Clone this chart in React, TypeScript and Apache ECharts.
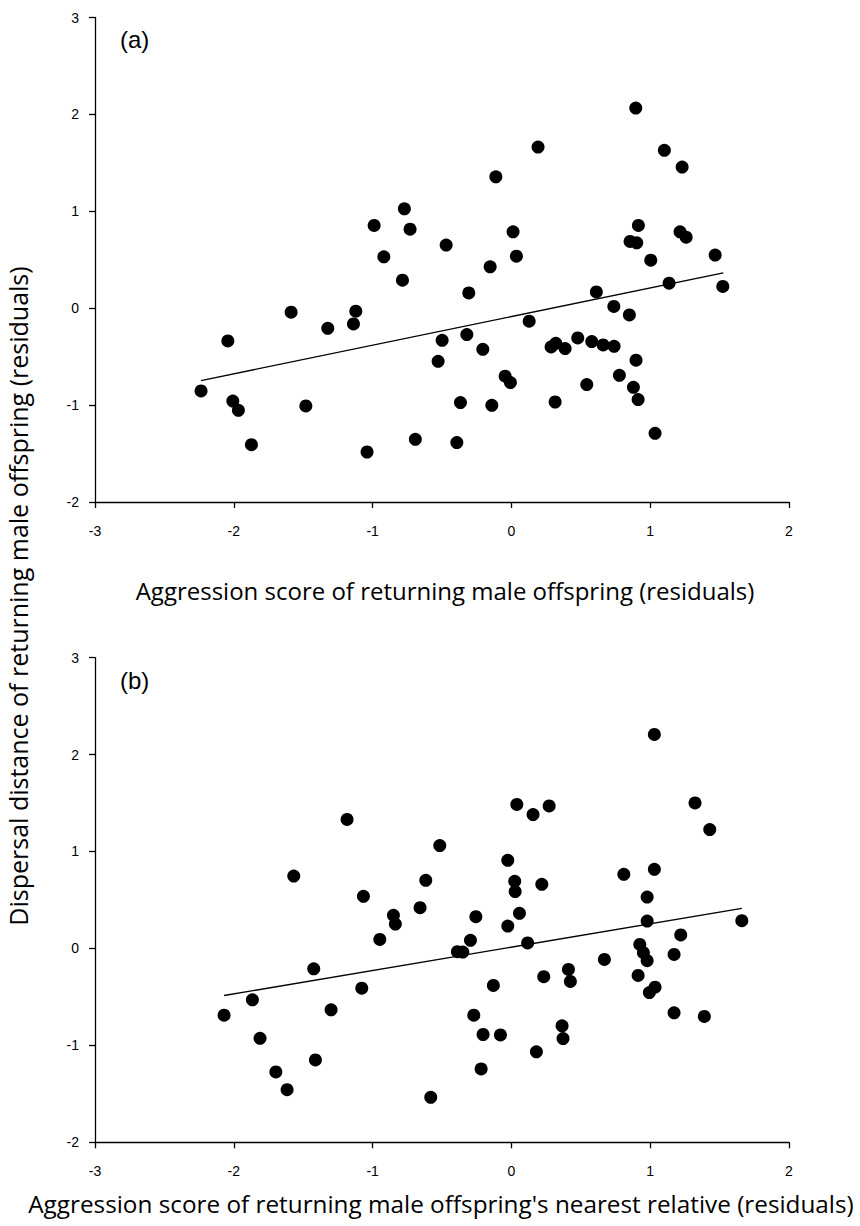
import React, { useEffect, useRef } from "react";
import * as echarts from "echarts";

// Panel (a): aggression score of returning male offspring vs dispersal distance (residuals)
const pointsA: [number, number][] = [
  [-0.771, 1.026], [-0.989, 0.854], [-0.73, 0.816], [-0.47, 0.651], [-0.919, 0.53],
  [-0.785, 0.289], [0.896, 2.066], [0.192, 1.663], [1.102, 1.629], [1.23, 1.457],
  [-0.112, 1.356], [0.915, 0.854], [0.012, 0.788], [0.855, 0.689], [0.903, 0.675],
  [1.215, 0.788], [1.259, 0.733], [0.036, 0.537], [1.004, 0.496], [1.468, 0.548],
  [-0.153, 0.427], [-0.307, 0.158], [0.612, 0.168], [1.136, 0.258], [1.523, 0.224],
  [-1.587, -0.041], [-1.121, -0.031], [-1.138, -0.162], [-1.323, -0.207], [-2.043, -0.338],
  [-0.499, -0.331], [-0.528, -0.548], [-2.236, -0.854], [-2.007, -0.958], [-1.967, -1.054],
  [-1.481, -1.009], [-1.873, -1.408], [-0.692, -1.353], [-1.04, -1.484], [-0.321, -0.272],
  [0.128, -0.134], [-0.206, -0.424], [0.738, 0.018], [0.85, -0.069], [0.286, -0.4],
  [0.32, -0.362], [0.387, -0.416], [0.478, -0.307], [0.579, -0.344], [0.661, -0.379],
  [0.74, -0.393], [0.898, -0.537], [0.778, -0.692], [-0.045, -0.702], [-0.007, -0.768],
  [0.879, -0.816], [0.913, -0.943], [0.543, -0.788], [-0.367, -0.974], [-0.141, -1.002],
  [0.315, -0.968], [1.035, -1.291], [-0.393, -1.387],
];
const fitA: [number, number][] = [[-2.236, -0.747], [1.527, 0.365]];

// Panel (b): aggression score of nearest relative vs dispersal distance (residuals)
const pointsB: [number, number][] = [
  [-1.184, 1.33], [-0.516, 1.061], [-1.568, 0.747], [-0.617, 0.702], [-1.066, 0.537],
  [-0.658, 0.42], [-0.85, 0.341], [-0.836, 0.251], [-0.948, 0.093], [1.03, 2.208],
  [0.039, 1.485], [0.156, 1.381], [0.272, 1.47], [1.323, 1.501], [1.429, 1.226],
  [-0.026, 0.909], [1.03, 0.816], [0.81, 0.764], [0.024, 0.692], [0.027, 0.586],
  [0.219, 0.661], [0.978, 0.53], [-0.256, 0.327], [0.058, 0.362], [-0.026, 0.23],
  [0.978, 0.282], [1.66, 0.286], [-0.295, 0.083], [0.117, 0.057], [1.22, 0.139],
  [-1.424, -0.21], [-1.078, -0.41], [-1.866, -0.53], [-2.07, -0.689], [-1.299, -0.633],
  [-1.811, -0.927], [-1.412, -1.15], [-1.697, -1.274], [-1.616, -1.457], [-0.581, -1.536],
  [-0.389, -0.034], [-0.35, -0.038], [0.67, -0.114], [0.925, 0.041], [0.951, -0.044],
  [0.978, -0.127], [1.172, -0.062], [-0.13, -0.382], [0.233, -0.292], [0.411, -0.217],
  [0.425, -0.341], [0.913, -0.279], [1.035, -0.4], [0.994, -0.455], [-0.271, -0.689],
  [-0.204, -0.888], [-0.079, -0.892], [0.365, -0.799], [0.372, -0.93], [0.18, -1.067],
  [1.172, -0.664], [1.39, -0.702], [-0.218, -1.243],
];
const fitB: [number, number][] = [[-2.07, -0.486], [1.66, 0.413]];

const xMin = -3;
const xMax = 2;
const yMin = -2;
const yMax = 3;
const tickStep = 1;

const panelLabels = ["(a)", "(b)"];
const xTitles = [
  "Aggression score of returning male offspring (residuals)",
  "Aggression score of returning male offspring's nearest relative (residuals)",
];
const yTitle = "Dispersal distance of returning male offspring (residuals)";

const tickFont = "Liberation Sans";
const titleFont = "Open Sans";

export default function App() {
  const ref = useRef<HTMLDivElement>(null);
  useEffect(() => {
    const chart = echarts.init(ref.current!, null, { renderer: "svg" });
    const axisLine = { show: true, onZero: false, lineStyle: { color: "#000", width: 1.3 } };
    const axisTick = { show: true, inside: false, length: 6, lineStyle: { color: "#000", width: 1.3 } };
    const makeX = (gi: number) => ({
      type: "value",
      gridIndex: gi,
      min: xMin,
      max: xMax,
      interval: tickStep,
      axisLine,
      axisTick,
      splitLine: { show: false },
      axisLabel: { show: true, color: "#000", fontSize: 14, fontFamily: tickFont, margin: 22 },
    });
    const makeY = (gi: number) => ({
      type: "value",
      gridIndex: gi,
      min: yMin,
      max: yMax,
      interval: tickStep,
      axisLine,
      axisTick,
      splitLine: { show: false },
      axisLabel: { show: true, color: "#000", fontSize: 14, fontFamily: tickFont, margin: 16 },
    });
    const scatter = (i: number, data: [number, number][]) => ({
      type: "scatter",
      xAxisIndex: i,
      yAxisIndex: i,
      data,
      symbol: "circle",
      symbolSize: 13,
      itemStyle: { color: "#000", opacity: 1 },
      z: 3,
    });
    const fit = (i: number, data: [number, number][]) => ({
      type: "line",
      xAxisIndex: i,
      yAxisIndex: i,
      data,
      showSymbol: false,
      symbol: "none",
      lineStyle: { color: "#000", width: 1.4 },
      z: 2,
    });
    chart.setOption({
      animation: false,
      backgroundColor: "#fff",
      textStyle: { fontFamily: tickFont, fontSize: 14, color: "#000" },
      grid: [
        { left: 95, top: 17.5, width: 694, height: 484.5 },
        { left: 95, top: 657.6, width: 694, height: 484.7 },
      ],
      xAxis: [makeX(0), makeX(1)],
      yAxis: [makeY(0), makeY(1)],
      series: [scatter(0, pointsA), fit(0, fitA), scatter(1, pointsB), fit(1, fitB)],
      graphic: [
        {
          type: "text",
          x: 120,
          y: 39,
          style: { text: panelLabels[0], fontSize: 24, fontFamily: tickFont, fill: "#000", textVerticalAlign: "middle" },
        },
        {
          type: "text",
          x: 120,
          y: 680,
          style: { text: panelLabels[1], fontSize: 24, fontFamily: tickFont, fill: "#000", textVerticalAlign: "middle" },
        },
        {
          type: "text",
          x: 445,
          y: 590,
          style: { text: xTitles[0], fontSize: 24, fontFamily: titleFont, fill: "#000", textAlign: "center", textVerticalAlign: "middle" },
        },
        {
          type: "text",
          x: 441,
          y: 1203,
          style: { text: xTitles[1], fontSize: 24.3, fontFamily: titleFont, fill: "#000", textAlign: "center", textVerticalAlign: "middle" },
        },
        {
          type: "text",
          x: 18,
          y: 596,
          rotation: Math.PI / 2,
          style: { text: yTitle, fontSize: 25, fontFamily: titleFont, fill: "#000", textAlign: "center", textVerticalAlign: "middle" },
        },
      ],
    });
    return () => chart.dispose();
  }, []);
  return (
    <div
      ref={ref}
      style={{ position: "absolute", left: 0, top: 0, width: 860, height: 1226, background: "#fff" }}
    />
  );
}
